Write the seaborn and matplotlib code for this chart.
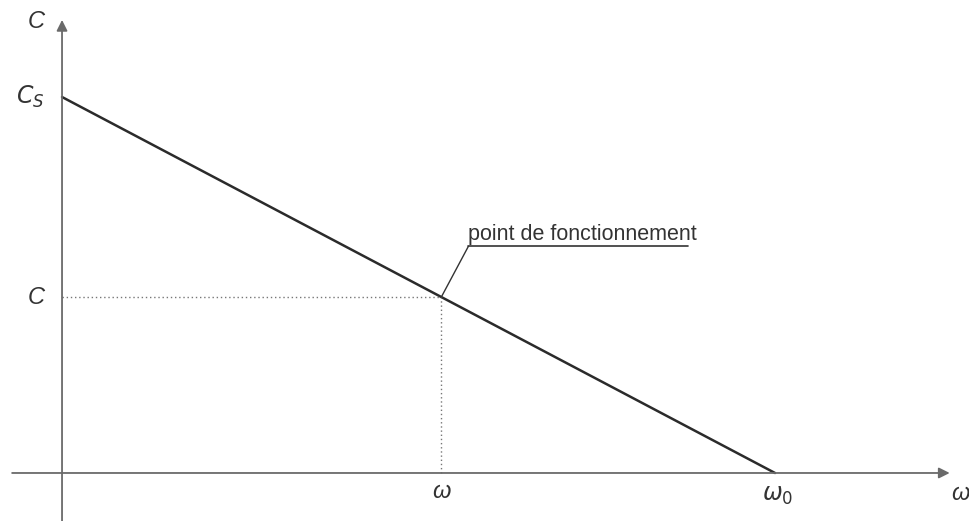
import numpy as np
import pandas as pd
import matplotlib
matplotlib.use("Agg")
import matplotlib.pyplot as plt
import seaborn as sns

# Caracteristique couple / vitesse (valeurs normalisees : C_S = 1, omega_0 = 1)
omega_points = [0.0, 1.0]
couple_points = [1.0, 0.0]
omega_fonct = 0.532
couple_fonct = 0.468

sns.set_theme(style="white")
plt.rcParams["font.family"] = ["Liberation Sans", "DejaVu Sans"]

fig = plt.figure(figsize=(9.7, 5.21), dpi=100)
ax = fig.add_axes([0, 0, 1, 1])
ax.set_xlim(-0.087, 1.2735)
ax.set_ylim(-0.1277, 1.258)
ax.axis("off")

gris_axe = "#6a6a6a"
# Axes avec fleches
ax.annotate("", xy=(1.245, 0), xytext=(-0.07, 0),
            arrowprops=dict(arrowstyle="-|>", color=gris_axe, lw=1.3,
                            mutation_scale=16, shrinkA=0, shrinkB=0))
ax.annotate("", xy=(0, 1.205), xytext=(0, -0.1277),
            arrowprops=dict(arrowstyle="-|>", color=gris_axe, lw=1.3,
                            mutation_scale=16, shrinkA=0, shrinkB=0))

# Droite C(omega)
df = pd.DataFrame({"omega": omega_points, "C": couple_points})
sns.lineplot(data=df, x="omega", y="C", ax=ax, color="#2b2b2b", lw=1.8)

# Pointilles du point de fonctionnement
ax.plot([0, omega_fonct], [couple_fonct, couple_fonct], ls=(0, (1, 2)),
        color="#777777", lw=1)
ax.plot([omega_fonct, omega_fonct], [0, couple_fonct], ls=(0, (1, 2)),
        color="#777777", lw=1)

# Annotation
ax.plot([omega_fonct, omega_fonct + 0.038], [couple_fonct, couple_fonct + 0.135],
        color="#333333", lw=1)
ax.plot([omega_fonct + 0.038, omega_fonct + 0.346],
        [couple_fonct + 0.135, couple_fonct + 0.135], color="#333333", lw=1.2)
ax.text(omega_fonct + 0.038, couple_fonct + 0.138, "point de fonctionnement",
        fontsize=15.5, color="#333333", ha="left", va="bottom")

# Etiquettes
txt = dict(color="#333333", fontstyle="italic")
ax.text(-0.024, 1.2, "C", fontsize=17, ha="right", va="center", **txt)
ax.text(-0.024, 1.0, "$C_S$", fontsize=17, ha="right", va="center", color="#333333",
        math_fontfamily="custom")
ax.text(-0.024, couple_fonct, "C", fontsize=17, ha="right", va="center", **txt)
ax.text(omega_fonct, -0.05, "ω", fontsize=17, ha="center", va="center", **txt)
ax.text(1.004, -0.06, "$ω_0$", fontsize=17, ha="center", va="center",
        color="#333333", math_fontfamily="custom")
ax.text(1.26, -0.055, "ω", fontsize=17, ha="center", va="center", **txt)

fig.savefig("out.png", dpi=100, facecolor="white")
